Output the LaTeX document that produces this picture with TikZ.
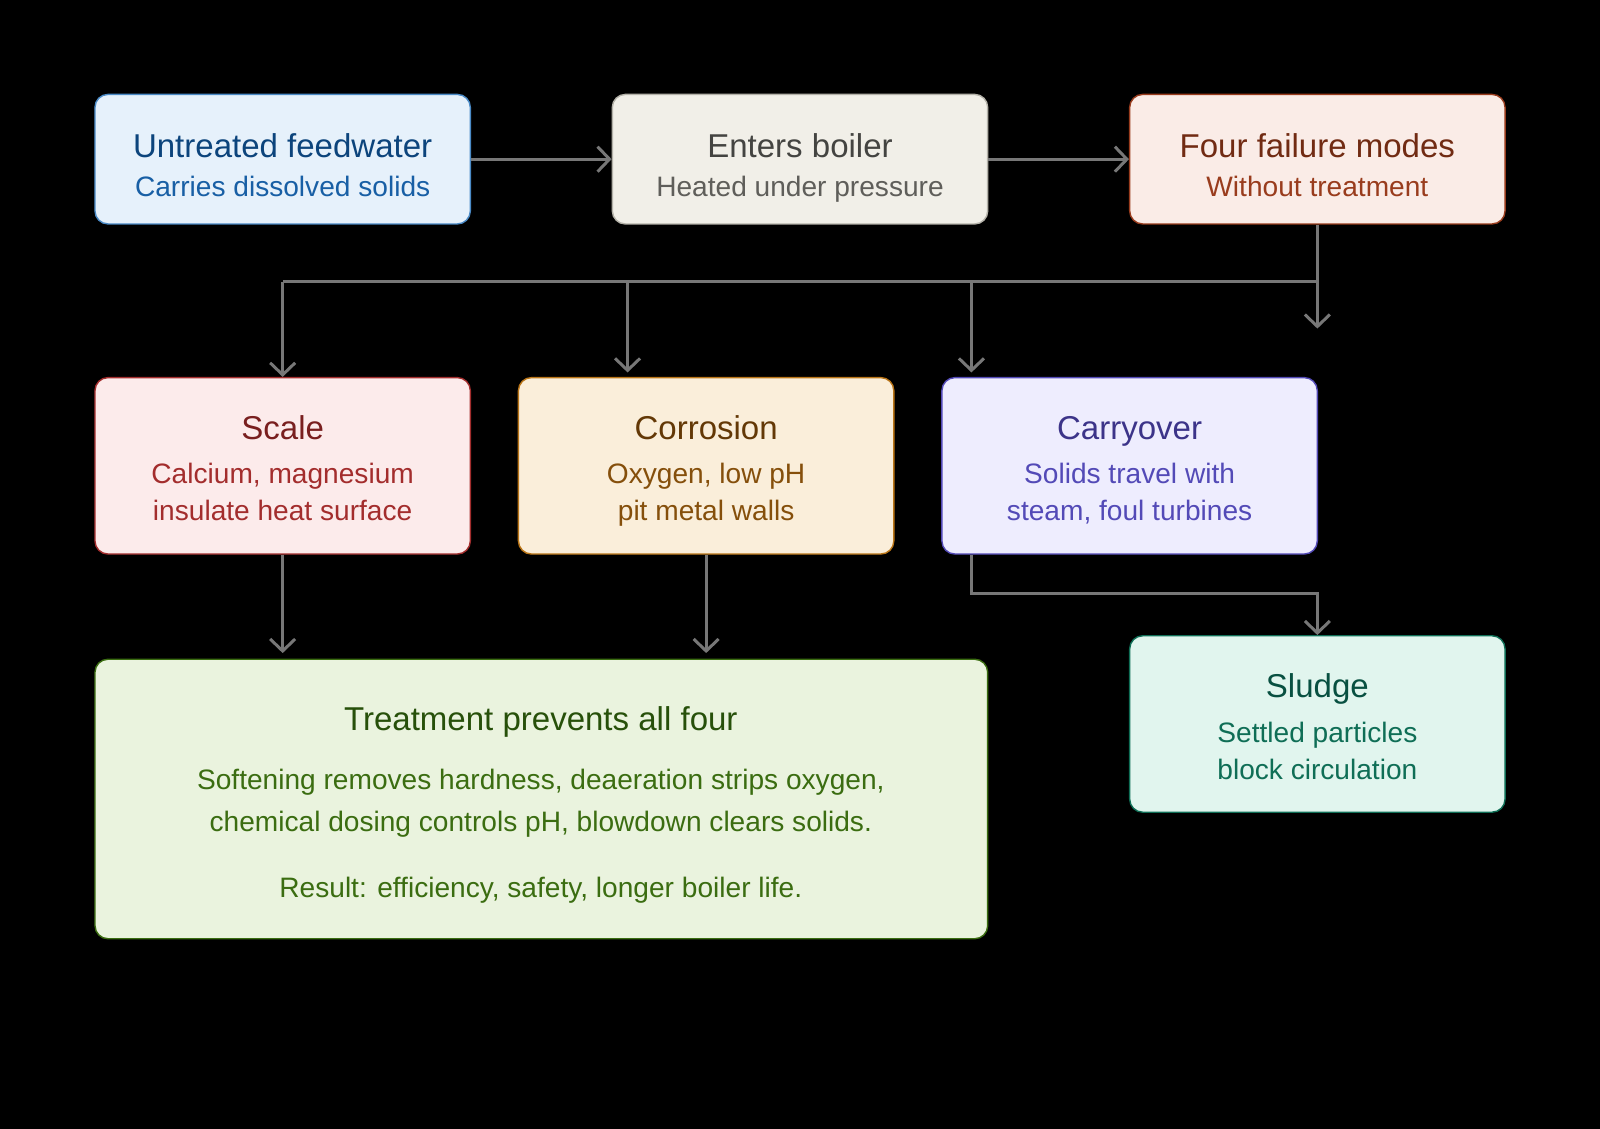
\documentclass[tikz,border=0pt]{standalone}
\usepackage{fontspec}
\setmainfont{Liberation Sans}
\usetikzlibrary{arrows.meta}

% colour pairs: fill, border, title, subtitle
\definecolor{feedF}{HTML}{E6F1FB}\definecolor{feedB}{HTML}{4A8AC6}\definecolor{feedT}{HTML}{0C447C}\definecolor{feedS}{HTML}{185FA5}
\definecolor{boilF}{HTML}{F1EFE8}\definecolor{boilB}{HTML}{B4B2A9}\definecolor{boilT}{HTML}{444441}\definecolor{boilS}{HTML}{5F5E5A}
\definecolor{failF}{HTML}{FAECE7}\definecolor{failB}{HTML}{993C1D}\definecolor{failT}{HTML}{712B13}\definecolor{failS}{HTML}{993C1D}
\definecolor{scalF}{HTML}{FCEBEB}\definecolor{scalB}{HTML}{A32D2D}\definecolor{scalT}{HTML}{791F1F}\definecolor{scalS}{HTML}{A32D2D}
\definecolor{corrF}{HTML}{FAEEDA}\definecolor{corrB}{HTML}{BA7517}\definecolor{corrT}{HTML}{633806}\definecolor{corrS}{HTML}{854F0B}
\definecolor{carrF}{HTML}{EEEDFE}\definecolor{carrB}{HTML}{534AB7}\definecolor{carrT}{HTML}{3C3489}\definecolor{carrS}{HTML}{534AB7}
\definecolor{sludF}{HTML}{E1F5EE}\definecolor{sludB}{HTML}{0F6E56}\definecolor{sludT}{HTML}{085041}\definecolor{sludS}{HTML}{0F6E56}
\definecolor{treaF}{HTML}{EAF3DE}\definecolor{treaB}{HTML}{3B6D11}\definecolor{treaT}{HTML}{27500A}\definecolor{treaS}{HTML}{3B6D11}
\definecolor{wire}{HTML}{777777}

\begin{document}
\begin{tikzpicture}[x=0.0102041cm,y=-0.0102041cm]
    % --- DEFINE STYLES ---
    \tikzset{
        box/.style={draw=#1B, fill=#1F, line width=0.4pt, rounded corners=0.13cm,
            inner sep=0pt, minimum width=3.755cm, minimum height=1.296cm},
        ttl/.style={text=#1T, font=\fontsize{9.4}{11}\selectfont, anchor=base},
        sub/.style={text=#1S, font=\fontsize{8}{10.5}\selectfont, anchor=base, align=center},
        flow/.style={draw=wire, line width=0.85pt, -{Straight Barb[length=1.2mm,width=2.5mm]}},
        wire/.style={draw=wire, line width=0.85pt}
    }
    \fill[black] (0,0) rectangle (1568,1106);
    \useasboundingbox (0,0) rectangle (1568,1106);

    % top row
    \node[box=feed] (feed) at (277,156) {};
    \node[ttl=feed] (feed-t) at (277,154) {Untreated feedwater};
    \node[sub=feed] (feed-s) at (277,193) {Carries dissolved solids};

    \node[box=boil] (boil) at (784,156) {};
    \node[ttl=boil] (boil-t) at (784,154) {Enters boiler};
    \node[sub=boil] (boil-s) at (784,193) {Heated under pressure};

    \node[box=fail] (fail) at (1291,156) {};
    \node[ttl=fail] (fail-t) at (1291,154) {Four failure modes};
    \node[sub=fail] (fail-s) at (1291,193) {Without treatment};

    % failure modes (base of a two-line text = its last line)
    \node[box=scal, minimum height=1.765cm] (scal) at (277,456.5) {};
    \node[ttl=scal] (scal-t) at (277,431) {Scale};
    \node[sub=scal] (scal-s) at (277,510) {Calcium, magnesium\\insulate heat surface};

    \node[box=corr, minimum height=1.765cm] (corr) at (692,456.5) {};
    \node[ttl=corr] (corr-t) at (692,431) {Corrosion};
    \node[sub=corr] (corr-s) at (692,510) {Oxygen, low pH\\pit metal walls};

    \node[box=carr, minimum height=1.765cm] (carr) at (1107,456.5) {};
    \node[ttl=carr] (carr-t) at (1107,431) {Carryover};
    \node[sub=carr] (carr-s) at (1107,510) {Solids travel with\\steam, foul turbines};

    \node[box=slud, minimum height=1.765cm] (slud) at (1291,709.5) {};
    \node[ttl=slud] (slud-t) at (1291,684) {Sludge};
    \node[sub=slud] (slud-s) at (1291,764) {Settled particles\\block circulation};

    % treatment
    \node[box=trea, minimum width=8.93cm, minimum height=2.796cm] (trea) at (530.5,783) {};
    \node[ttl=trea] (trea-t) at (530,716) {Treatment prevents all four};
    \node[sub=trea, font=\fontsize{8}{12.1}\selectfont] (trea-s) at (530,815)
        {Softening removes hardness, deaeration strips oxygen,\\chemical dosing controls pH, blowdown clears solids.};
    \node[sub=trea] (trea-r) at (530,880) {Result: efficiency, safety, longer boiler life.};

    % connectors
    \coordinate (bus) at (1291,276);
    \coordinate (busL) at (277,276);
    \coordinate (tipA) at (615,365);
    \coordinate (tipB) at (952,365);
    \coordinate (tipC) at (1291,322);
    \coordinate (carrOut) at (952,543.5);
    \coordinate (turn) at (952,582);
    \coordinate (scalIn) at (277,640);
    \coordinate (corrIn) at (692,640);

    \draw[flow] (feed.east) -- (boil.west);
    \draw[flow] (boil.east) -- (fail.west);
    \draw[wire] (fail.south) -- (bus) -- (busL);
    \draw[flow] (busL) -- (scal.north);
    \draw[flow] (tipA |- bus) -- (tipA);
    \draw[flow] (tipB |- bus) -- (tipB);
    \draw[flow] (bus) -- (tipC);
    \draw[flow] (scal.south) -- (scalIn);
    \draw[flow] (corr.south) -- (corrIn);
    \draw[flow] (carrOut) -- (turn) -| (slud.north);
\end{tikzpicture}
\end{document}
